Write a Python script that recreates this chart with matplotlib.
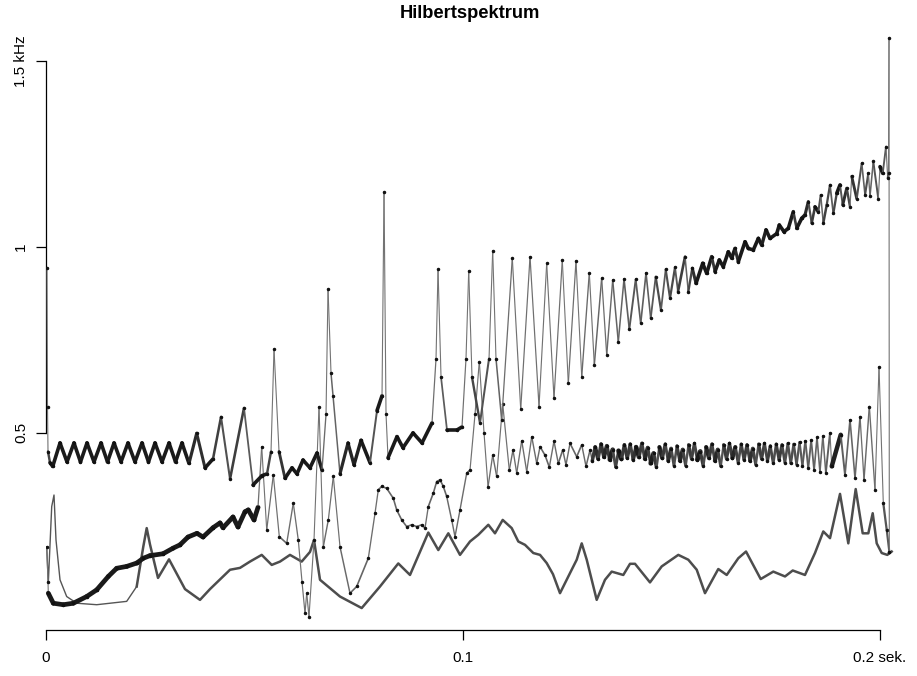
import numpy as np
import matplotlib.pyplot as plt
from matplotlib.collections import LineCollection

plt.rcParams['font.family'] = ['Liberation Sans', 'DejaVu Sans']

# time in ms, instantaneous frequency in kHz
imf1_ms = [0.24, 0.36, 0.48, 0.96, 1.61,
           3.36, 5.04, 6.71, 8.27, 9.83, 11.51, 13.19, 14.75, 16.31, 17.99,
           19.66, 21.34, 23.02, 24.58, 26.14, 27.82, 29.50, 31.06, 32.61, 34.29,
           36.14, 38.13, 40.05, 41.97, 44.13, 47.48, 49.64, 51.80, 53.00, 53.96,
           54.68, 55.88, 57.31, 58.99, 60.19, 61.63, 63.31, 64.99, 66.19, 67.15,
           67.63, 68.35, 68.83, 70.50, 72.42, 73.86, 75.54, 77.70, 79.38, 80.58,
           81.06, 81.54, 82.02, 84.17, 85.61, 88.01, 90.17, 92.57, 93.53, 94.01,
           94.73, 96.16, 98.56, 99.76, 100.72, 101.37, 102.16, 104.08, 106.24, 107.12,
           107.91, 109.28, 111.82, 113.84, 116.07, 118.23, 120.07, 121.82, 123.81, 125.25,
           127.10, 128.47, 130.29, 131.49, 133.26, 134.46, 135.90, 137.24, 138.61, 139.88,
           141.42, 142.62, 143.89, 145.01, 146.21, 147.48, 148.61, 149.64, 150.84, 151.56,
           153.24, 154.03, 154.99, 155.88, 157.48, 158.44, 159.64, 160.43, 161.46, 162.42,
           163.62, 164.44, 165.23, 166.02, 167.63, 168.42, 169.62, 170.82, 171.63, 172.66,
           173.62, 175.23, 175.85, 176.98, 178.01, 179.21, 180.02, 181.22, 182.01, 182.81,
           183.62, 184.41, 185.21, 185.78, 186.40, 187.22, 188.01, 188.80, 189.62, 190.41,
           191.06, 192.02, 192.81, 193.22, 194.42, 195.62, 196.41, 197.20, 197.60, 198.39,
           199.59, 200.00, 200.65, 201.44, 201.85, 202.04, 202.16, 202.23]
imf1_khz = [0.944, 0.57, 0.45, 0.42, 0.41,
            0.473, 0.422, 0.473, 0.422, 0.473, 0.422, 0.473, 0.422, 0.473, 0.422,
            0.473, 0.422, 0.473, 0.422, 0.473, 0.422, 0.473, 0.422, 0.473, 0.418,
            0.499, 0.406, 0.43, 0.543, 0.376, 0.567, 0.36, 0.385, 0.39, 0.45,
            0.725, 0.45, 0.378, 0.406, 0.39, 0.427, 0.406, 0.446, 0.40, 0.55,
            0.887, 0.66, 0.60, 0.39, 0.473, 0.414, 0.48, 0.42, 0.56, 0.60,
            1.148, 0.55, 0.433, 0.49, 0.46, 0.50, 0.473, 0.527, 0.70, 0.94,
            0.65, 0.508, 0.508, 0.516, 0.70, 0.936, 0.65, 0.527, 0.70, 0.99,
            0.70, 0.535, 0.97, 0.564, 0.974, 0.571, 0.956, 0.593, 0.965, 0.633,
            0.963, 0.651, 0.93, 0.683, 0.916, 0.71, 0.911, 0.745, 0.914, 0.779,
            0.913, 0.795, 0.93, 0.808, 0.92, 0.83, 0.94, 0.862, 0.945, 0.88,
            0.974, 0.88, 0.943, 0.902, 0.956, 0.929, 0.974, 0.934, 0.965, 0.947,
            0.987, 0.97, 0.996, 0.96, 1.014, 0.996, 0.992, 1.023, 1.005, 1.046,
            1.023, 1.036, 1.059, 1.041, 1.05, 1.095, 1.05, 1.077, 1.086, 1.122,
            1.064, 1.108, 1.095, 1.14, 1.064, 1.113, 1.167, 1.09, 1.144, 1.167,
            1.113, 1.158, 1.108, 1.19, 1.13, 1.225, 1.14, 1.198, 1.137, 1.23,
            1.13, 1.216, 1.198, 1.27, 1.185, 1.2, 1.562, 0.18]

imf2_ms = [0.17, 0.48, 0.55, 1.75, 4.15, 6.55, 9.76, 12.16, 14.94, 16.95,
           19.35, 21.75, 23.33, 24.94, 28.06, 30.46, 32.13, 34.05, 36.21, 37.65,
           40.05, 41.73, 42.45, 44.84, 46.04, 47.72, 48.51, 49.88, 50.84, 51.73,
           52.93, 54.51, 55.95, 57.72, 59.30, 60.50, 61.39, 62.11, 62.52, 63.07,
           64.27, 65.47, 66.50, 67.70, 68.90, 70.50, 72.90, 74.51, 77.29, 78.90,
           79.69, 80.50, 81.70, 83.29, 84.10, 85.30, 86.50, 87.70, 88.90, 90.10,
           90.89, 91.68, 92.88, 93.69, 94.49, 95.28, 96.09, 97.29, 98.08, 99.28,
           100.89, 101.68, 102.88, 103.91, 105.04, 106.00, 107.12, 108.08, 109.52, 111.10,
           111.99, 112.88, 114.08, 115.28, 116.48, 117.68, 118.47, 119.67, 120.70, 121.82,
           122.85, 123.91, 124.70, 125.66, 127.27, 128.47, 129.50, 130.46,
           131.0, 131.7, 132.4, 133.1, 133.8, 134.5, 135.2, 135.9, 136.6,
           137.3, 138.0, 138.7, 139.4, 140.1, 140.8, 141.5, 142.2, 142.9,
           143.6, 144.3, 145.0, 145.7, 146.4, 147.1, 147.8, 148.5, 149.2,
           149.9, 150.6, 151.3, 152.0, 152.7, 153.4, 154.1, 154.8, 155.5,
           156.2, 156.9, 157.6, 158.3, 159.0, 159.7, 160.4, 161.1, 161.8,
           162.5, 163.2, 163.9, 164.6, 165.3, 166.0, 166.7, 167.4, 168.1,
           168.8, 169.5, 170.2, 170.9, 171.6, 172.3, 173.0, 173.7, 174.4,
           175.1, 175.8, 176.5, 177.2, 177.9, 178.6, 179.3, 180.0, 180.7,
           181.4, 182.1, 182.8, 183.5, 184.2, 184.9, 185.6, 186.3, 187.0,
           188.01, 188.42, 190.58, 191.61, 192.81, 194.01, 195.21, 196.16, 197.44, 198.80,
           199.76, 200.79, 201.61, 202.23]
imf2_khz = [0.194, 0.10, 0.069, 0.042, 0.038, 0.042, 0.06, 0.078, 0.114, 0.136,
            0.141, 0.15, 0.163, 0.17, 0.175, 0.19, 0.199, 0.22, 0.23, 0.22,
            0.245, 0.258, 0.245, 0.274, 0.247, 0.288, 0.293, 0.266, 0.30, 0.463,
            0.239, 0.387, 0.221, 0.203, 0.311, 0.212, 0.10, 0.015, 0.069, 0.006,
            0.212, 0.571, 0.194, 0.266, 0.383, 0.194, 0.069, 0.087, 0.163, 0.284,
            0.347, 0.356, 0.351, 0.324, 0.293, 0.266, 0.248, 0.253, 0.248, 0.253,
            0.244, 0.302, 0.338, 0.369, 0.374, 0.356, 0.329, 0.266, 0.221, 0.293,
            0.392, 0.40, 0.55, 0.692, 0.50, 0.355, 0.44, 0.383, 0.578, 0.40,
            0.454, 0.392, 0.479, 0.396, 0.49, 0.418, 0.463, 0.44, 0.408, 0.478,
            0.418, 0.454, 0.414, 0.472, 0.436, 0.468, 0.41, 0.454,
            0.425, 0.462, 0.430, 0.470, 0.435, 0.465, 0.428, 0.455, 0.408,
            0.452, 0.430, 0.468, 0.432, 0.470, 0.428, 0.462, 0.435, 0.472,
            0.430, 0.460, 0.418, 0.445, 0.408, 0.462, 0.432, 0.470, 0.425,
            0.458, 0.412, 0.465, 0.425, 0.455, 0.412, 0.468, 0.430, 0.472,
            0.428, 0.450, 0.412, 0.462, 0.432, 0.470, 0.425, 0.455, 0.410,
            0.468, 0.430, 0.472, 0.432, 0.462, 0.420, 0.470, 0.428, 0.468,
            0.425, 0.458, 0.415, 0.470, 0.430, 0.472, 0.425, 0.465, 0.418,
            0.470, 0.428, 0.468, 0.420, 0.472, 0.418, 0.470, 0.415, 0.475,
            0.412, 0.478, 0.405, 0.480, 0.400, 0.488, 0.395, 0.492, 0.392,
            0.50, 0.41, 0.495, 0.387, 0.535, 0.378, 0.544, 0.374, 0.571, 0.347,
            0.678, 0.311, 0.239, 0.181]

imf3_ms = [0.17, 0.55, 1.37, 1.92, 2.40, 3.36, 4.96, 7.36, 12.16, 19.35,
           21.75, 23.33, 24.15, 24.94, 26.86, 29.50, 30.94, 33.33, 36.93, 39.33,
           44.13, 46.52, 48.92, 51.73, 54.13, 56.12, 58.51, 61.32, 63.31, 64.27,
           65.71, 70.50, 75.71, 80.10, 84.48, 87.29, 91.68, 94.08, 96.48, 99.28,
           101.68, 103.67, 106.07, 107.67, 109.52, 111.68, 113.26, 114.87, 116.86, 118.47,
           120.07, 121.58, 123.26, 125.66, 127.27, 128.47, 129.67, 132.06, 134.05, 135.66,
           138.44, 140.05, 141.25, 144.84, 147.65, 151.63, 154.03, 156.05, 158.03, 161.22,
           163.24, 166.02, 167.87, 171.39, 174.41, 177.22, 179.07, 182.01, 184.41, 186.40,
           188.01, 190.41, 192.40, 194.17, 195.85, 197.20, 198.25, 199.21, 200.41, 201.75, 202.80]
imf3_khz = [0.194, 0.096, 0.302, 0.333, 0.212, 0.105, 0.06, 0.042, 0.038, 0.047,
            0.087, 0.194, 0.244, 0.20, 0.11, 0.16, 0.13, 0.08, 0.051, 0.08,
            0.132, 0.137, 0.154, 0.172, 0.145, 0.154, 0.172, 0.154, 0.18, 0.212,
            0.105, 0.06, 0.029, 0.087, 0.149, 0.118, 0.232, 0.185, 0.23, 0.172,
            0.208, 0.226, 0.253, 0.23, 0.266, 0.244, 0.208, 0.199, 0.177, 0.172,
            0.15, 0.12, 0.069, 0.123, 0.159, 0.203, 0.159, 0.051, 0.105, 0.127,
            0.118, 0.148, 0.148, 0.098, 0.141, 0.172, 0.159, 0.132, 0.069, 0.134,
            0.118, 0.163, 0.181, 0.107, 0.127, 0.114, 0.13, 0.118, 0.177, 0.235,
            0.217, 0.336, 0.203, 0.349, 0.23, 0.23, 0.284, 0.203, 0.177, 0.172, 0.181]

x_ticks = [0, 0.1, 0.2]
x_labels = ['0', '0.1', '0.2 sek.']
y_ticks = [0.5, 1, 1.5]
y_labels = ['0.5', '1', '1.5 kHz']

t1 = np.array(imf1_ms) / 1000
t2 = np.array(imf2_ms) / 1000
t3 = np.array(imf3_ms) / 1000
f1 = np.array(imf1_khz)
f2 = np.array(imf2_khz)
f3 = np.array(imf3_khz)


def dense_line(ax, t, f, lw_thin, lw_thick, z, heavy=None):
    # slow stretches were sampled densely in the original, so they look heavy
    segs = np.stack([np.column_stack([t[:-1], f[:-1]]),
                     np.column_stack([t[1:], f[1:]])], axis=1)
    run_px = np.hypot(np.diff(t) * 4170, np.diff(f) * 372)
    dens = np.diff(t) * 1000 / np.maximum(run_px, 1e-6)
    w = np.clip((dens - 0.012) / (0.07 - 0.012), 0, 1)
    if heavy is not None:
        w = np.where(heavy[:-1], w, 0.15 * w)
    grey = 0.45 - 0.35 * w
    cols = np.column_stack([grey, grey, grey, np.ones_like(grey)])
    lc = LineCollection(segs, linewidths=lw_thin + (lw_thick - lw_thin) * w,
                        colors=cols, capstyle='round', zorder=z)
    ax.add_collection(lc)
    ax.plot(t, f, ls='none', marker='o', ms=1.5, mfc='#111111', mec='#111111', zorder=z)


fig = plt.figure(figsize=(9.17, 6.76), dpi=100)
ax = fig.add_axes([46 / 917, 46 / 676, 848.6 / 917, 595 / 676])

# lowest component, thin at its very start
start = t3 <= 0.0194
ax.plot(t3[t3 <= 0.022], f3[t3 <= 0.022], color='#555555', lw=1.0, zorder=2)
ax.plot(t3[~start], f3[~start], color='#4d4d4d', lw=1.8, zorder=2)

dense_line(ax, t2, f2, 0.8, 3.4, 3, heavy=(t2 < 0.051) | (t2 > 0.1305))
dense_line(ax, t1, f1, 0.8, 2.6, 4)

ax.set_xlim(0, 0.2035)
ax.set_ylim(-0.03, 1.57)

for side in ['top', 'right']:
    ax.spines[side].set_visible(False)
ax.spines['left'].set_bounds(0.5, 1.5)
ax.spines['bottom'].set_bounds(0, 0.2)
ax.spines['left'].set_linewidth(0.9)
ax.spines['bottom'].set_linewidth(0.9)

ax.set_xticks(x_ticks)
ax.set_xticklabels(x_labels)
ax.set_yticks(y_ticks)
ax.set_yticklabels(y_labels, rotation=90, va='center')
ax.tick_params(axis='both', direction='out', length=7, width=0.9, labelsize=11)
ax.tick_params(axis='x', pad=8)
ax.tick_params(axis='y', pad=6)

fig.text(470 / 917, 1 - 13 / 676, 'Hilbertspektrum', ha='center', va='center',
         fontsize=13.2, fontweight='bold')

plt.savefig('out.png', dpi=100)
